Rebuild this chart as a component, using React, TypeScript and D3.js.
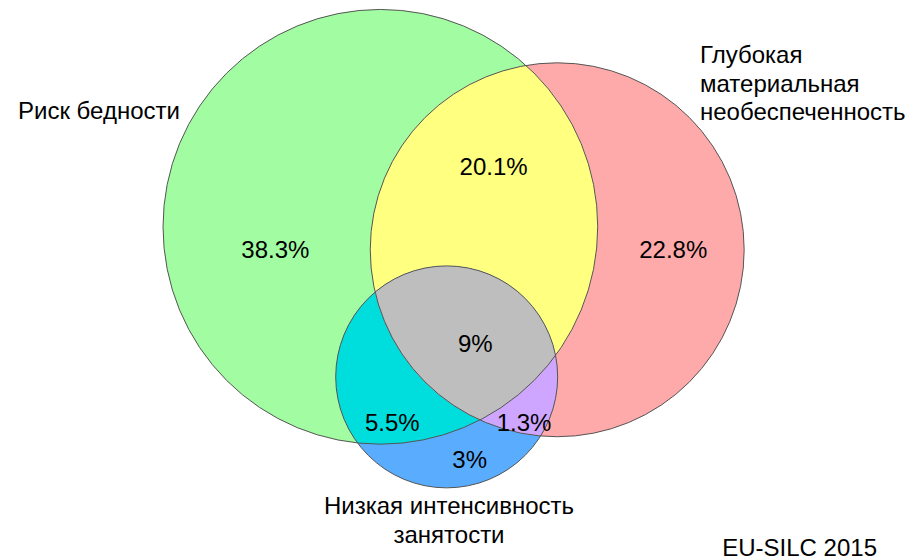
import React from "react";
import * as d3 from "d3";

// sets and region shares (EU-SILC 2015)
const setNames = ["Риск бедности", "Глубокая материальная необеспеченность", "Низкая интенсивность занятости"];
const regionKeys = ["A", "B", "C", "AB", "AC", "BC", "ABC"];
const regionValues = [38.3, 22.8, 3, 20.1, 5.5, 1.3, 9];
const regionColors = ["#a2fca2", "#ffaaaa", "#5aacff", "#ffff80", "#00dddd", "#cfa6ff", "#bebebe"];
const source = "EU-SILC 2015";

// layout, in a 0..100 unit space mapped with scales
const circleLayout = [
  { cx: 41.3, cy: 40.5, r: 23.6 },
  { cx: 60.5, cy: 44.6, r: 20.3 },
  { cx: 48.5, cy: 67.3, r: 12.05 },
];
const labelPos: Record<string, [number, number]> = {
  A: [29.9, 44.6], B: [73.1, 44.6], C: [51, 82.1],
  AB: [53.6, 29.8], AC: [42.6, 75.4], BC: [56.9, 75.4], ABC: [51.6, 61.3],
};

export default function App() {
  const W = 921, H = 560;
  const sx = d3.scaleLinear().domain([0, 100]).range([0, W]);
  const sy = d3.scaleLinear().domain([0, 100]).range([0, H]);
  const c = circleLayout.map((d) => ({ cx: sx(d.cx), cy: sy(d.cy), r: sx(d.r) }));
  const fmt = (v: number) => `${v}%`;
  const color = d3.scaleOrdinal<string, string>().domain(regionKeys).range(regionColors);
  const circ = (i: number, fill: string, clip?: string) => (
    <circle cx={c[i].cx} cy={c[i].cy} r={c[i].r} fill={fill} clipPath={clip} />
  );
  const font = "'Liberation Sans', Arial, sans-serif";
  const fs = 24;

  return (
    <svg width={W} height={H} style={{ position: "absolute", left: 0, top: 0 }} fontFamily={font}>
      <defs>
        {c.map((d, i) => (
          <clipPath id={`clip${i}`} key={i}>
            <circle cx={d.cx} cy={d.cy} r={d.r} />
          </clipPath>
        ))}
      </defs>
      {circ(0, color("A"))}
      {circ(1, color("B"))}
      {circ(2, color("C"))}
      {circ(1, color("AB"), "url(#clip0)")}
      {circ(2, color("AC"), "url(#clip0)")}
      {circ(2, color("BC"), "url(#clip1)")}
      <g clipPath="url(#clip0)">{circ(2, color("ABC"), "url(#clip1)")}</g>
      {c.map((d, i) => (
        <circle key={i} cx={d.cx} cy={d.cy} r={d.r} fill="none" stroke="#555" strokeWidth={1} />
      ))}
      {regionKeys.map((k, i) => (
        <text key={k} x={sx(labelPos[k][0])} y={sy(labelPos[k][1])} textAnchor="middle"
          dominantBaseline="central" fontSize={fs}>
          {fmt(regionValues[i])}
        </text>
      ))}
      <text x={18} y={119} fontSize={fs}>{setNames[0]}</text>
      <text x={700} y={63} fontSize={fs}>
        {["Глубокая", "материальная", "необеспеченность"].map((t, i) => (
          <tspan key={i} x={700} dy={i === 0 ? 0 : 28.7}>{t}</tspan>
        ))}
      </text>
      <text x={449} y={514} fontSize={fs} textAnchor="middle">
        <tspan x={449}>Низкая интенсивность</tspan>
        <tspan x={449} dy={28.7}>занятости</tspan>
      </text>
      <text x={877} y={556} fontSize={fs} textAnchor="end">{source}</text>
    </svg>
  );
}
